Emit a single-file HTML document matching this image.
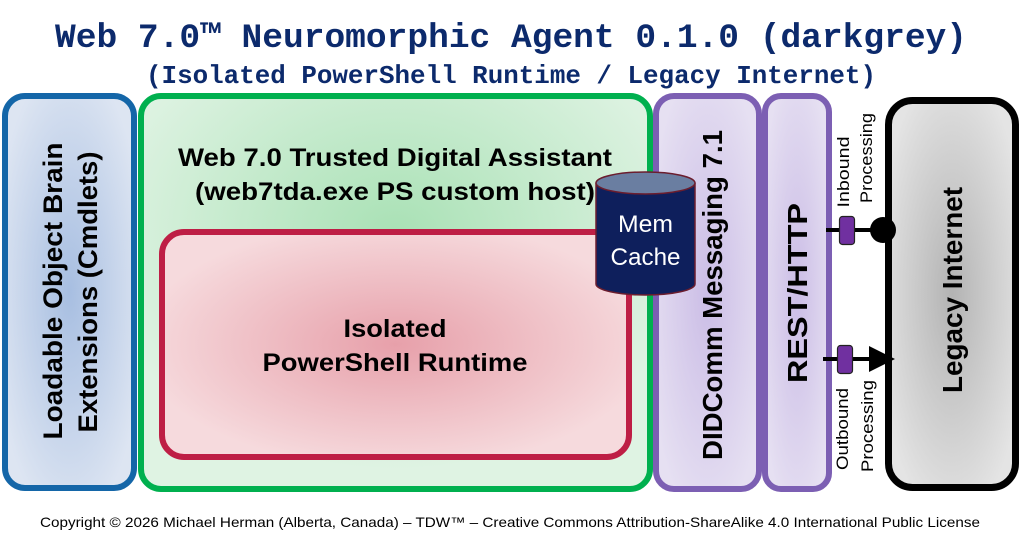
<!DOCTYPE html>
<html>
<head>
<meta charset="utf-8">
<style>
html,body{margin:0;padding:0;background:#fff;}
svg{display:block;}
</style>
</head>
<body>
<svg width="1022" height="547" viewBox="0 0 1022 547" xmlns="http://www.w3.org/2000/svg">
<defs>
<radialGradient id="gBlue" cx="50%" cy="50%" r="60%">
<stop offset="0" stop-color="#a7bee1"/>
<stop offset="1" stop-color="#dde5f2"/>
</radialGradient>
<radialGradient id="gGreen" cx="50%" cy="35%" r="60%">
<stop offset="0" stop-color="#a9e1b5"/>
<stop offset="1" stop-color="#dff3e3"/>
</radialGradient>
<radialGradient id="gRed" cx="50%" cy="50%" r="55%">
<stop offset="0" stop-color="#e7a0aa"/>
<stop offset="1" stop-color="#f6dadd"/>
</radialGradient>
<radialGradient id="gPurple" cx="50%" cy="50%" r="60%">
<stop offset="0" stop-color="#cbbde6"/>
<stop offset="1" stop-color="#e6e0f2"/>
</radialGradient>
<radialGradient id="gGrey" cx="50%" cy="50%" r="60%">
<stop offset="0" stop-color="#b3b3b3"/>
<stop offset="1" stop-color="#e4e4e4"/>
</radialGradient>
</defs>

<!-- Title -->
<text x="511" y="47" text-anchor="middle" font-family="'Liberation Mono', monospace" font-weight="bold" font-size="34" fill="#0c2a6c" textLength="912" lengthAdjust="spacingAndGlyphs">Web 7.0™ Neuromorphic Agent 0.1.0 (darkgrey)</text>
<text x="511" y="83" text-anchor="middle" font-family="'Liberation Mono', monospace" font-weight="bold" font-size="26" fill="#0c2a6c" textLength="730" lengthAdjust="spacingAndGlyphs">(Isolated PowerShell Runtime / Legacy Internet)</text>

<!-- Blue box -->
<rect x="5" y="96" width="129" height="392" rx="20" fill="url(#gBlue)" stroke="#1466a8" stroke-width="6"/>
<g transform="translate(53,291) rotate(-90)">
<text x="0" y="9" text-anchor="middle" font-family="'Liberation Sans', sans-serif" font-weight="bold" font-size="27" fill="#000" textLength="297" lengthAdjust="spacingAndGlyphs">Loadable Object Brain</text>
</g>
<g transform="translate(88,292) rotate(-90)">
<text x="0" y="9" text-anchor="middle" font-family="'Liberation Sans', sans-serif" font-weight="bold" font-size="27" fill="#000" textLength="281" lengthAdjust="spacingAndGlyphs">Extensions (Cmdlets)</text>
</g>

<!-- Green box -->
<rect x="141" y="96" width="509" height="393" rx="20" fill="url(#gGreen)" stroke="#00b04f" stroke-width="6"/>
<text x="395" y="166" text-anchor="middle" font-family="'Liberation Sans', sans-serif" font-weight="bold" font-size="25" fill="#000" textLength="434" lengthAdjust="spacingAndGlyphs">Web 7.0 Trusted Digital Assistant</text>
<text x="395" y="200" text-anchor="middle" font-family="'Liberation Sans', sans-serif" font-weight="bold" font-size="25" fill="#000" textLength="400" lengthAdjust="spacingAndGlyphs">(web7tda.exe PS custom host)</text>

<!-- Red box -->
<rect x="162" y="232" width="467" height="225" rx="22" fill="url(#gRed)" stroke="#be1e45" stroke-width="6"/>
<text x="395" y="337" text-anchor="middle" font-family="'Liberation Sans', sans-serif" font-weight="bold" font-size="25" fill="#000" textLength="103" lengthAdjust="spacingAndGlyphs">Isolated</text>
<text x="395" y="371" text-anchor="middle" font-family="'Liberation Sans', sans-serif" font-weight="bold" font-size="25" fill="#000" textLength="265" lengthAdjust="spacingAndGlyphs">PowerShell Runtime</text>

<!-- DIDComm box -->
<rect x="656" y="96" width="103" height="393" rx="18" fill="url(#gPurple)" stroke="#7c5fb3" stroke-width="6"/>
<g transform="translate(712,295) rotate(-90)">
<text x="0" y="10" text-anchor="middle" font-family="'Liberation Sans', sans-serif" font-weight="bold" font-size="28" fill="#000" textLength="330" lengthAdjust="spacingAndGlyphs">DIDComm Messaging 7.1</text>
</g>

<!-- REST box -->
<rect x="765" y="96" width="64" height="393" rx="16" fill="url(#gPurple)" stroke="#7c5fb3" stroke-width="6"/>
<g transform="translate(797,293) rotate(-90)">
<text x="0" y="10" text-anchor="middle" font-family="'Liberation Sans', sans-serif" font-weight="bold" font-size="28" fill="#000" textLength="180" lengthAdjust="spacingAndGlyphs">REST/HTTP</text>
</g>

<!-- Cylinder Mem Cache -->
<path d="M596,183 L596,284 A49.5,11 0 0 0 695,284 L695,183" fill="#0e1f5c" stroke="#6b1d2e" stroke-width="1.5"/>
<ellipse cx="645.5" cy="183" rx="49.5" ry="11" fill="#6a7ea1" stroke="#6b1d2e" stroke-width="1.5"/>
<text x="645.5" y="232" text-anchor="middle" font-family="'Liberation Sans', sans-serif" font-size="24" fill="#fff" textLength="55" lengthAdjust="spacingAndGlyphs">Mem</text>
<text x="645.5" y="265" text-anchor="middle" font-family="'Liberation Sans', sans-serif" font-size="24" fill="#fff" textLength="70" lengthAdjust="spacingAndGlyphs">Cache</text>

<!-- Legacy Internet box -->
<rect x="888.5" y="100.5" width="127" height="387" rx="24" fill="url(#gGrey)" stroke="#000" stroke-width="7"/>
<g transform="translate(952,290) rotate(-90)">
<text x="0" y="10" text-anchor="middle" font-family="'Liberation Sans', sans-serif" font-weight="bold" font-size="28" fill="#000" textLength="206" lengthAdjust="spacingAndGlyphs">Legacy Internet</text>
</g>

<!-- Inbound connector -->
<line x1="826" y1="230" x2="884" y2="230" stroke="#000" stroke-width="4"/>
<rect x="839.5" y="216.5" width="15" height="28" rx="3" fill="#7030a0" stroke="#222" stroke-width="1.2"/>
<circle cx="883" cy="230" r="13" fill="#000"/>
<g transform="translate(843,172) rotate(-90)">
<text x="0" y="6" text-anchor="middle" font-family="'Liberation Sans', sans-serif" font-size="17" fill="#000" textLength="71" lengthAdjust="spacingAndGlyphs">Inbound</text>
</g>
<g transform="translate(866,158) rotate(-90)">
<text x="0" y="6" text-anchor="middle" font-family="'Liberation Sans', sans-serif" font-size="17" fill="#000" textLength="90" lengthAdjust="spacingAndGlyphs">Processing</text>
</g>

<!-- Outbound connector -->
<line x1="823" y1="359" x2="875" y2="359" stroke="#000" stroke-width="4"/>
<rect x="837.5" y="345.5" width="15" height="28" rx="3" fill="#7030a0" stroke="#222" stroke-width="1.2"/>
<polygon points="869,346 869,372 895,359" fill="#000"/>
<g transform="translate(842,429) rotate(-90)">
<text x="0" y="6" text-anchor="middle" font-family="'Liberation Sans', sans-serif" font-size="17" fill="#000" textLength="82" lengthAdjust="spacingAndGlyphs">Outbound</text>
</g>
<g transform="translate(867,426) rotate(-90)">
<text x="0" y="6" text-anchor="middle" font-family="'Liberation Sans', sans-serif" font-size="17" fill="#000" textLength="92" lengthAdjust="spacingAndGlyphs">Processing</text>
</g>

<!-- Copyright -->
<text x="510" y="527" text-anchor="middle" font-family="'Liberation Sans', sans-serif" font-size="14" fill="#000" textLength="940" lengthAdjust="spacingAndGlyphs">Copyright © 2026 Michael Herman (Alberta, Canada) – TDW™ – Creative Commons Attribution-ShareAlike  4.0 International Public License</text>
</svg>
</body>
</html>
